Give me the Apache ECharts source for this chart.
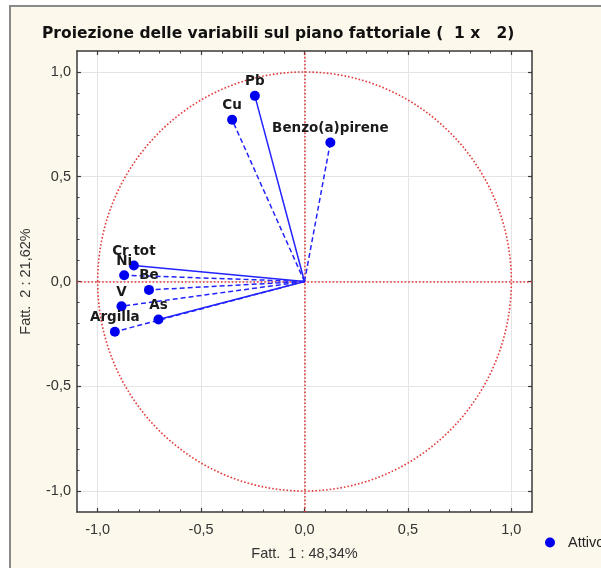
<!DOCTYPE html>
<html>
<head>
<meta charset="utf-8">
<script src="https://cdn.jsdelivr.net/npm/echarts@6/dist/echarts.min.js"></script>
<style>
html,body{margin:0;padding:0;background:#fff;}
#c{width:601px;height:568px;}
</style>
</head>
<body>
<div id="c"></div>
<script>
// ---- data ----
const variables = ['Pb', 'Cu', 'Benzo(a)pirene', 'Cr tot', 'Ni', 'Be', 'V', 'As', 'Argilla'];
const fatt1 = [-0.24, -0.35, 0.125, -0.825, -0.872, -0.752, -0.885, -0.706, -0.917];
const fatt2 = [0.886, 0.772, 0.663, 0.076, 0.030, -0.040, -0.118, -0.181, -0.240];
const lineKinds = ['solid', 'dashed', 'dashed', 'solid', 'dashed', 'dashed', 'dashed', 'solid', 'dashed'];
const majorTicks = [-1, -0.5, 0, 0.5, 1];
const minorTicks = [-1.0, -0.9, -0.8, -0.7, -0.6, -0.5, -0.4, -0.3, -0.2, -0.1, 0, 0.1, 0.2, 0.3, 0.4, 0.5, 0.6, 0.7, 0.8, 0.9, 1.0];
const legendName = 'Attivo';

// ---- chart ----
const chart = echarts.init(document.getElementById('c'), null, {renderer: 'canvas'});
const AX = '#3a3a3a';
const fmt = v => v.toFixed(1).replace('.', ',');
const labelFont = {fontFamily: 'Liberation Sans', fontSize: 14.5, color: '#333'};

function mainAxis(pos, withLabels, extra) {
  return Object.assign({
    type: 'value', position: pos, min: -1.1, max: 1.1,
    axisLine: {show: true, onZero: false, lineStyle: {color: AX, width: 1.5}},
    axisTick: {show: true, inside: true, length: 4, customValues: majorTicks, lineStyle: {color: AX, width: 1.2}},
    axisLabel: withLabels ? Object.assign({show: true, customValues: majorTicks, formatter: fmt}, labelFont) : {show: false},
    splitLine: {show: withLabels, lineStyle: {color: '#e4e4e4', width: 1}}
  }, extra || {});
}
function minorAxis(pos) {
  return {
    type: 'value', position: pos, min: -1.1, max: 1.1,
    axisLine: {show: false, onZero: false},
    axisTick: {show: true, inside: true, length: 2.5, customValues: minorTicks, lineStyle: {color: AX, width: 1}},
    axisLabel: {show: false},
    splitLine: {show: false}
  };
}

const series = [];
variables.forEach((v, i) => {
  const s = {
    type: 'line', name: 'vec_' + v,
    data: [[0, 0], [fatt1[i], fatt2[i]]],
    showSymbol: false, symbol: 'none', silent: true,
    lineStyle: {color: '#2323ff', width: 1.5, type: lineKinds[i] === 'dashed' ? [5, 3] : 'solid'},
    z: 3
  };
  if (i === 0) {
    s.markLine = {
      silent: true, symbol: 'none', label: {show: false},
      lineStyle: {color: '#e23a3a', width: 1.6, type: [1.6, 2]},
      data: [{xAxis: 0}, {yAxis: 0}],
      z: 2
    };
  }
  series.push(s);
});
series.push({
  type: 'custom', name: 'circle', silent: true, z: 2,
  data: [[0, 0]],
  renderItem: function (params, api) {
    const c = api.coord([api.value(0), api.value(1)]);
    const s = api.size([1, 1]);
    return {
      type: 'ellipse',
      shape: {cx: c[0], cy: c[1], rx: s[0], ry: s[1]},
      style: {fill: 'none', stroke: '#e23a3a', lineWidth: 1.6, lineDash: [1.6, 2]}
    };
  }
});
series.push({
  type: 'scatter', name: legendName,
  data: variables.map((n, i) => ({name: n, value: [fatt1[i], fatt2[i]]})),
  symbol: 'circle', symbolSize: 10,
  itemStyle: {color: '#0000f0', opacity: 1},
  label: {
    show: true, position: 'top', distance: 2,
    formatter: p => p.name,
    fontFamily: 'DejaVu Sans', fontWeight: 'bold', fontSize: 13.5, color: '#1a1a1a'
  },
  z: 5
});

chart.setOption({
  animation: false,
  backgroundColor: '#ffffff',
  graphic: [{
    type: 'rect', left: 9, top: 5, z: -10,
    shape: {width: 640, height: 620},
    style: {fill: '#fdf8ec', stroke: '#8a8a8a', lineWidth: 2}
  }],
  title: {
    text: 'Proiezione delle variabili sul piano fattoriale (  1 x   2)',
    left: 37, top: 21,
    textStyle: {fontFamily: 'DejaVu Sans', fontWeight: 'bold', fontSize: 15.5, color: '#111'}
  },
  legend: {
    data: [legendName], left: 540, top: 530,
    itemWidth: 20, itemHeight: 10, icon: 'circle',
    textStyle: {fontFamily: 'Liberation Sans', fontSize: 14.5, color: '#222', padding: [0, 0, 0, 3]}
  },
  grid: {
    left: 77, right: 69, top: 51, bottom: 56,
    show: true, backgroundColor: '#ffffff', borderWidth: 0
  },
  xAxis: [
    mainAxis('bottom', true, {
      name: 'Fatt.  1 : 48,34%', nameLocation: 'middle', nameGap: 34,
      nameTextStyle: {fontFamily: 'Liberation Sans', fontSize: 14.5, color: '#333'}
    }),
    minorAxis('bottom'),
    mainAxis('top', false),
    minorAxis('top')
  ],
  yAxis: [
    mainAxis('left', true, {
      name: 'Fatt.  2 : 21,62%', nameLocation: 'middle', nameGap: 44, nameRotate: 90,
      nameTextStyle: {fontFamily: 'Liberation Sans', fontSize: 14.5, color: '#333'}
    }),
    minorAxis('left'),
    mainAxis('right', false),
    minorAxis('right')
  ],
  series: series
});
chart.setOption({yAxis: [{axisLabel: {margin: 6}}], xAxis: [{axisLabel: {margin: 10}}]});
</script>
</body>
</html>
